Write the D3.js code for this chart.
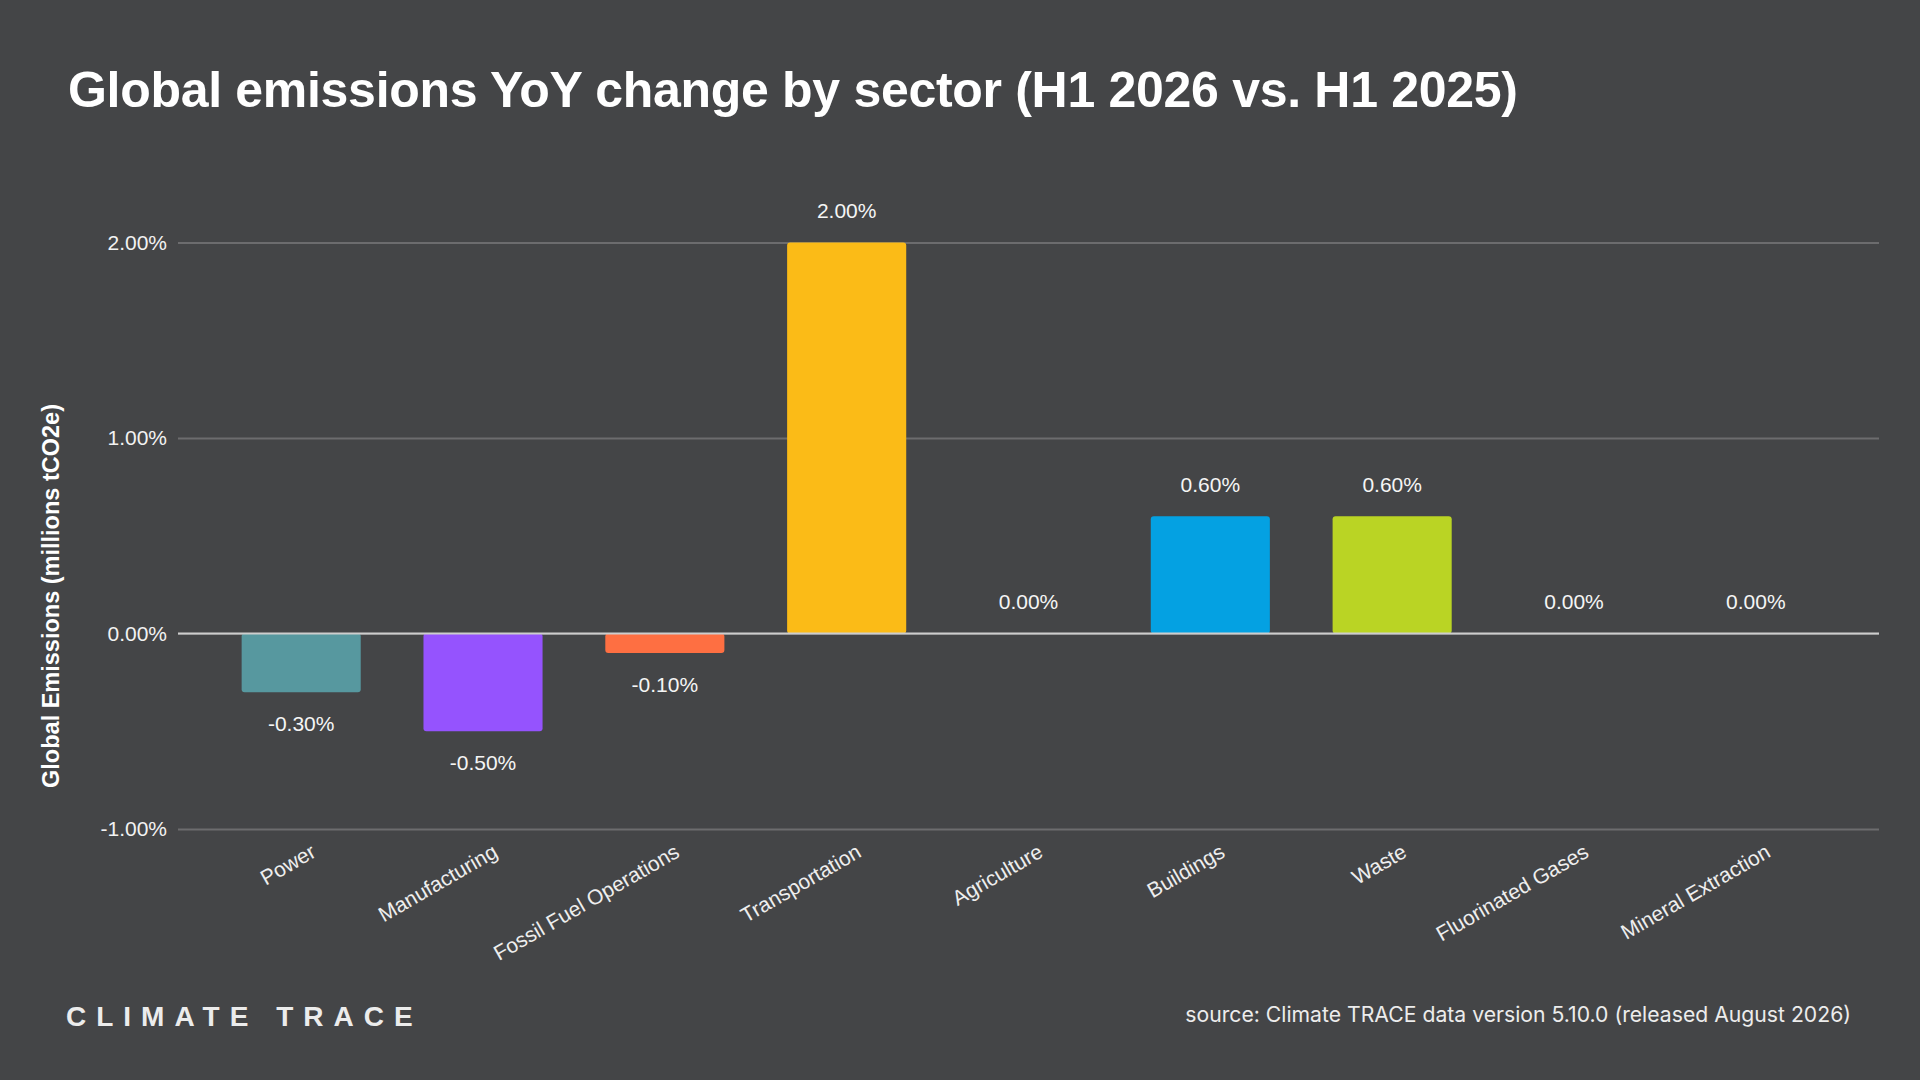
<!DOCTYPE html>
<html>
<head>
<meta charset="utf-8">
<script src="https://cdn.jsdelivr.net/npm/d3@7"></script>
<style>
  html, body { margin: 0; padding: 0; background: #444547; }
  svg { display: block; }
</style>
</head>
<body>
<svg id="chart" width="1920" height="1080"></svg>
<script>
// data
const sectors = ['Power', 'Manufacturing', 'Fossil Fuel Operations', 'Transportation', 'Agriculture', 'Buildings', 'Waste', 'Fluorinated Gases', 'Mineral Extraction'];
const yoyChange = [-0.3, -0.5, -0.1, 2.0, 0.0, 0.6, 0.6, 0.0, 0.0];
const sectorColors = ['#57989f', '#9553fe', '#fe6f42', '#fbbb17', '#8c8c8c', '#04a1e2', '#bad424', '#c05fb2', '#a0a0a0'];
const yTicks = [-1, 0, 1, 2];

const title = 'Global emissions YoY change by sector (H1 2026 vs. H1 2025)';
const yTitle = 'Global Emissions (millions tCO2e)';
const source = 'source: Climate TRACE data version 5.10.0 (released August 2026)';

const data = sectors.map((s, i) => ({ sector: s, value: yoyChange[i] }));
const fmt = d => d.toFixed(2) + '%';

const svg = d3.select('#chart');
const left = 178, right = 1879;

const x = d3.scaleBand()
  .domain(sectors)
  .range([left, right])
  .paddingInner(0.345)
  .paddingOuter(0.35);

const y = d3.scaleLinear()
  .domain([-1, 2])
  .range([829, 242.5]);

const color = d3.scaleOrdinal().domain(sectors).range(sectorColors);

// title
svg.append('text')
  .attr('x', 68)
  .attr('y', 107)
  .attr('fill', '#ffffff')
  .style('font-family', '"Liberation Sans", Arial, sans-serif')
  .style('font-weight', 'bold')
  .style('font-size', '50px')
  .style('letter-spacing', '-0.3px')
  .text(title);

// y axis + gridlines
const yAxis = svg.append('g')
  .attr('transform', `translate(${left},0)`)
  .call(d3.axisLeft(y).tickValues(yTicks).tickFormat(fmt).tickSize(-(right - left)).tickPadding(11));

yAxis.select('.domain').remove();
yAxis.selectAll('.tick line')
  .attr('stroke', '#6c6c6e')
  .attr('stroke-width', 2);
yAxis.selectAll('.tick text')
  .attr('fill', '#f2f2f2')
  .attr('dy', '0.33em')
  .style('font-family', '"Liberation Sans", Arial, sans-serif')
  .style('font-size', '21px');

svg.append('text')
  .attr('transform', `translate(59,596) rotate(-90)`)
  .attr('text-anchor', 'middle')
  .attr('fill', '#ffffff')
  .style('font-family', '"Liberation Sans", Arial, sans-serif')
  .style('font-weight', 'bold')
  .style('font-size', '23.5px')
  .text(yTitle);

// bars
svg.append('g')
  .selectAll('rect')
  .data(data.filter(d => d.value !== 0))
  .join('rect')
  .attr('x', d => x(d.sector))
  .attr('width', x.bandwidth())
  .attr('y', d => y(Math.max(0, d.value)))
  .attr('height', d => Math.abs(y(d.value) - y(0)))
  .attr('rx', 3)
  .attr('fill', d => color(d.sector));

// zero line
svg.append('line')
  .attr('x1', left)
  .attr('x2', right)
  .attr('y1', y(0))
  .attr('y2', y(0))
  .attr('stroke', '#cdcdcd')
  .attr('stroke-width', 2);

// value labels
svg.append('g')
  .selectAll('text')
  .data(data)
  .join('text')
  .attr('x', d => x(d.sector) + x.bandwidth() / 2)
  .attr('y', d => d.value >= 0 ? y(d.value) - 24.5 : y(d.value) + 39)
  .attr('text-anchor', 'middle')
  .attr('fill', '#f5f5f5')
  .style('font-family', '"Liberation Sans", Arial, sans-serif')
  .style('font-size', '21px')
  .text(d => fmt(d.value));

// x axis labels
const xAxis = svg.append('g')
  .attr('transform', `translate(0,${y(-1)})`)
  .call(d3.axisBottom(x).tickSize(0));

xAxis.select('.domain').remove();
xAxis.selectAll('.tick text')
  .attr('x', 0)
  .attr('y', 0)
  .attr('dy', 0)
  .attr('transform', 'translate(16,27) rotate(-30)')
  .attr('text-anchor', 'end')
  .attr('fill', '#eeeeee')
  .style('font-family', '"Liberation Sans", Arial, sans-serif')
  .style('font-size', '21px');

// footer
svg.append('text')
  .attr('x', 66)
  .attr('y', 1026)
  .attr('fill', '#ececec')
  .style('font-family', '"Liberation Sans", Arial, sans-serif')
  .style('font-weight', 'bold')
  .style('font-size', '28px')
  .style('letter-spacing', '10px')
  .text('CLIMATE TRACE');

svg.append('text')
  .attr('x', 1851)
  .attr('y', 1022)
  .attr('text-anchor', 'end')
  .attr('fill', '#ececec')
  .style('font-family', 'Inter, "Noto Sans", sans-serif')
  .style('font-size', '21.2px')
  .text(source);
</script>
</body>
</html>
